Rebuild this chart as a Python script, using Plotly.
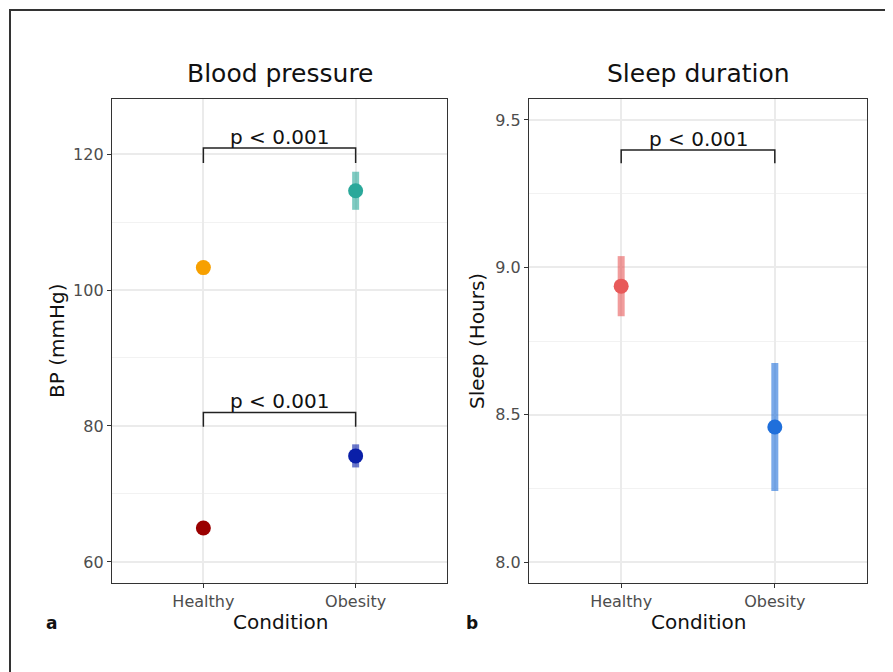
import plotly.graph_objects as go

W, H = 893, 672
OFF = 8  # page body margin offset
FW, FH = W + OFF, H + OFF

categories = ["Healthy", "Obesity"]

# Blood pressure (mmHg)
bp_upper_mean = [103.3, 114.6]
bp_upper_err = [0.6, 2.8]
bp_lower_mean = [65.0, 75.6]
bp_lower_err = [0.4, 1.7]
bp_upper_colors = ["#F7A000", "#2AA89A"]
bp_lower_colors = ["#9A0000", "#0A1FA8"]

# Sleep (Hours)
sleep_mean = [8.936, 8.458]
sleep_err = [0.102, 0.217]
sleep_colors = ["#E85A5A", "#1F6FDB"]

# significance brackets: [top y, tick bottom y], label
bp_bracket_upper = [120.9, 118.7]
bp_bracket_lower = [82.0, 79.9]
sleep_bracket = [9.398, 9.353]
p_label = "p < 0.001"

bp_ticks = [60, 80, 100, 120]
sleep_ticks = [8.0, 8.5, 9.0, 9.5]

FONT = "DejaVu Sans"


def rgba(hex_color, a):
    h = hex_color.lstrip("#")
    r, g, b = int(h[0:2], 16), int(h[2:4], 16), int(h[4:6], 16)
    return f"rgba({r},{g},{b},{a})"


def px(x):
    return (x - OFF) / FW


def py(y):
    return 1 - (y - OFF) / FH


fig = go.Figure()


def add_points(xax, yax, means, errs, colors):
    for cat, m, e, c in zip(categories, means, errs, colors):
        fig.add_trace(go.Scatter(
            x=[cat], y=[m], mode="markers", xaxis=xax, yaxis=yax,
            marker=dict(size=15, color=c),
            error_y=dict(type="data", array=[e], visible=True,
                         color=rgba(c, 0.6), thickness=7, width=0),
            showlegend=False, hoverinfo="skip"))


def add_bracket(xax, yax, br):
    top, bot = br
    fig.add_trace(go.Scatter(
        x=[categories[0], categories[0], categories[1], categories[1]],
        y=[bot, top, top, bot], mode="lines", xaxis=xax, yaxis=yax,
        line=dict(color="#222222", width=1.5), showlegend=False,
        hoverinfo="skip"))
    fig.add_annotation(x=0.5, y=top, xref=xax, yref=yax, text=p_label,
                       showarrow=False, yanchor="bottom", yshift=-3,
                       font=dict(family=FONT, size=20, color="#111111"))


add_bracket("x", "y", bp_bracket_upper)
add_bracket("x", "y", bp_bracket_lower)
add_points("x", "y", bp_upper_mean, bp_upper_err, bp_upper_colors)
add_points("x", "y", bp_lower_mean, bp_lower_err, bp_lower_colors)

add_bracket("x2", "y2", sleep_bracket)
add_points("x2", "y2", sleep_mean, sleep_err, sleep_colors)

ydom = [py(583), py(99)]
xdom1 = [px(112), px(447)]
xdom2 = [px(529), px(867)]

common_x = dict(type="category", categoryorder="array", categoryarray=categories,
                range=[-0.6, 1.6], showline=True, mirror=True, linecolor="#333333",
                linewidth=1.3, ticks="outside", ticklen=4, tickcolor="#333333",
                showgrid=True, gridcolor="#EBEBEB", gridwidth=1.5, zeroline=False,
                tickfont=dict(family=FONT, size=16, color="#4D4D4D"))
common_y = dict(showline=True, mirror=True, linecolor="#333333", linewidth=1.3,
                ticks="outside", ticklen=4, tickcolor="#333333", showgrid=True,
                gridcolor="#EBEBEB", gridwidth=1.5, zeroline=False,
                tickfont=dict(family=FONT, size=16, color="#4D4D4D"))

fig.update_layout(
    width=FW, height=FH, margin=dict(l=0, r=0, t=0, b=0),
    paper_bgcolor="white", plot_bgcolor="white",
    font=dict(family=FONT),
    xaxis=dict(domain=xdom1, anchor="y", **common_x),
    yaxis=dict(domain=ydom, anchor="x", range=[56.9, 128.1], tickvals=bp_ticks,
               minor=dict(dtick=10, tick0=60, showgrid=True, gridcolor="#F2F2F2",
                          gridwidth=1, ticks=""),
               **common_y),
    xaxis2=dict(domain=xdom2, anchor="y2", **common_x),
    yaxis2=dict(domain=ydom, anchor="x2", range=[7.929, 9.571], tickvals=sleep_ticks,
                tickformat=".1f",
                minor=dict(dtick=0.25, tick0=8.0, showgrid=True, gridcolor="#F2F2F2",
                           gridwidth=1, ticks=""),
                **common_y),
)

# figure frame (open on right and bottom, as in the cropped original)
fig.add_shape(type="rect", xref="paper", yref="paper", x0=px(10), x1=1.05,
              y0=-0.05, y1=py(10), line=dict(color="#333333", width=2),
              fillcolor="rgba(0,0,0,0)", layer="below")


def txt(x, y, s, size, color="#111111", angle=0, bold=False):
    fig.add_annotation(x=px(x), y=py(y), xref="paper", yref="paper",
                       text=f"<b>{s}</b>" if bold else s, showarrow=False,
                       textangle=angle, xanchor="center", yanchor="middle",
                       font=dict(family=FONT, size=size, color=color))


txt(280, 73, "Blood pressure", 25)
txt(698, 73, "Sleep duration", 25)
txt(280, 622, "Condition", 20)
txt(698, 622, "Condition", 20)
txt(57, 341, "BP (mmHg)", 20, angle=-90)
txt(477, 341, "Sleep (Hours)", 20, angle=-90)
txt(51, 623, "a", 17, bold=True)
txt(472, 623, "b", 17, bold=True)

fig.write_html("out.html")
